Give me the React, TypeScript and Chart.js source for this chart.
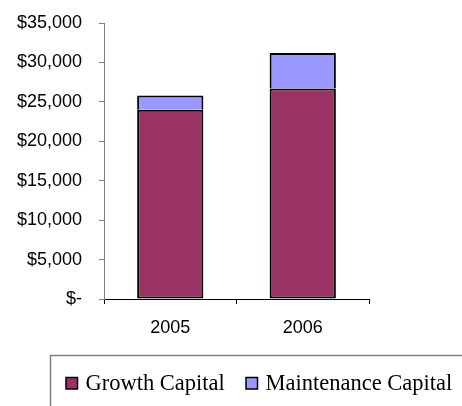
import React, { useEffect, useRef } from "react";
import { Chart, registerables } from "chart.js";

Chart.register(...registerables);

const categories = ["2005", "2006"];
const growthCapital = [24000, 26700];
const maintenanceCapital = [1800, 4500];
const seriesLabels = ["Growth Capital", "Maintenance Capital"];
const seriesColors = ["#993366", "#9999FF"];
const yMin = 0;
const yMax = 35000;
const yStep = 5000;

const axisFont = { family: "'Liberation Sans', Arial, sans-serif", size: 18 };
const legendFontCss = "22.5px 'Liberation Serif', 'Times New Roman', serif";
const legendMarkerX = [66, 246];

const boxLegendPlugin = {
  id: "boxLegend",
  afterDraw(chart: any) {
    const ctx = chart.ctx as CanvasRenderingContext2D;
    ctx.save();
    ctx.strokeStyle = "#808080";
    ctx.lineWidth = 1.5;
    ctx.strokeRect(50.5, 355.5, 500, 100);
    ctx.font = legendFontCss;
    ctx.textBaseline = "alphabetic";
    ctx.textAlign = "left";
    const markerTop = 377.5;
    const markerSize = 11.5;
    const baseline = 389.5;
    chart.data.datasets.forEach((ds: any, i: number) => {
      const x = legendMarkerX[i];
      ctx.fillStyle = ds.backgroundColor;
      ctx.fillRect(x, markerTop, markerSize, markerSize);
      ctx.strokeStyle = "#000";
      ctx.lineWidth = 1.5;
      ctx.strokeRect(x, markerTop, markerSize, markerSize);
      ctx.fillStyle = "#000";
      ctx.fillText(ds.label, x + 19.5, baseline);
    });
    ctx.restore();
  },
};

export default function App() {
  const ref = useRef<HTMLCanvasElement | null>(null);

  useEffect(() => {
    if (!ref.current) return;
    const chart = new Chart(ref.current, {
      type: "bar",
      data: {
        labels: categories,
        datasets: [
          {
            label: seriesLabels[0],
            data: growthCapital,
            backgroundColor: seriesColors[0],
            borderColor: "#000",
            borderWidth: 2,
            borderSkipped: false,
            barPercentage: 0.5,
            categoryPercentage: 1.0,
          },
          {
            label: seriesLabels[1],
            data: maintenanceCapital,
            backgroundColor: seriesColors[1],
            borderColor: "#000",
            borderWidth: 2,
            borderSkipped: "bottom",
            barPercentage: 0.5,
            categoryPercentage: 1.0,
          },
        ],
      },
      options: {
        responsive: false,
        animation: false,
        layout: { padding: { left: 0, top: 23, right: 93, bottom: 67 } },
        plugins: {
          legend: { display: false },
          tooltip: { enabled: false },
        },
        scales: {
          x: {
            stacked: true,
            offset: true,
            grid: {
              display: true,
              drawOnChartArea: false,
              drawTicks: true,
              tickLength: 5,
              color: "#000",
              offset: true,
            },
            border: { color: "#000", width: 1 },
            ticks: { color: "#000", font: axisFont, padding: 13 },
            afterFit: (s: any) => {
              s.height = 40;
              s.paddingLeft = 0;
              s.paddingRight = 0;
            },
          },
          y: {
            stacked: true,
            min: yMin,
            max: yMax,
            grid: {
              display: true,
              drawOnChartArea: false,
              drawTicks: true,
              tickLength: 5,
              color: "#808080",
            },
            border: { color: "#808080", width: 1 },
            ticks: {
              stepSize: yStep,
              color: "#000",
              font: axisFont,
              padding: 17,
              callback: (v: any) =>
                Number(v) === 0 ? "$-" : "$" + Number(v).toLocaleString("en-US"),
            },
            afterFit: (s: any) => {
              s.width = 104;
              s.paddingTop = 0;
              s.paddingBottom = 0;
            },
          },
        },
      },
      plugins: [boxLegendPlugin],
    });
    return () => chart.destroy();
  }, []);

  return (
    <canvas
      ref={ref}
      width={462}
      height={406}
      style={{ position: "absolute", left: 0, top: 0, width: 462, height: 406 }}
    />
  );
}
